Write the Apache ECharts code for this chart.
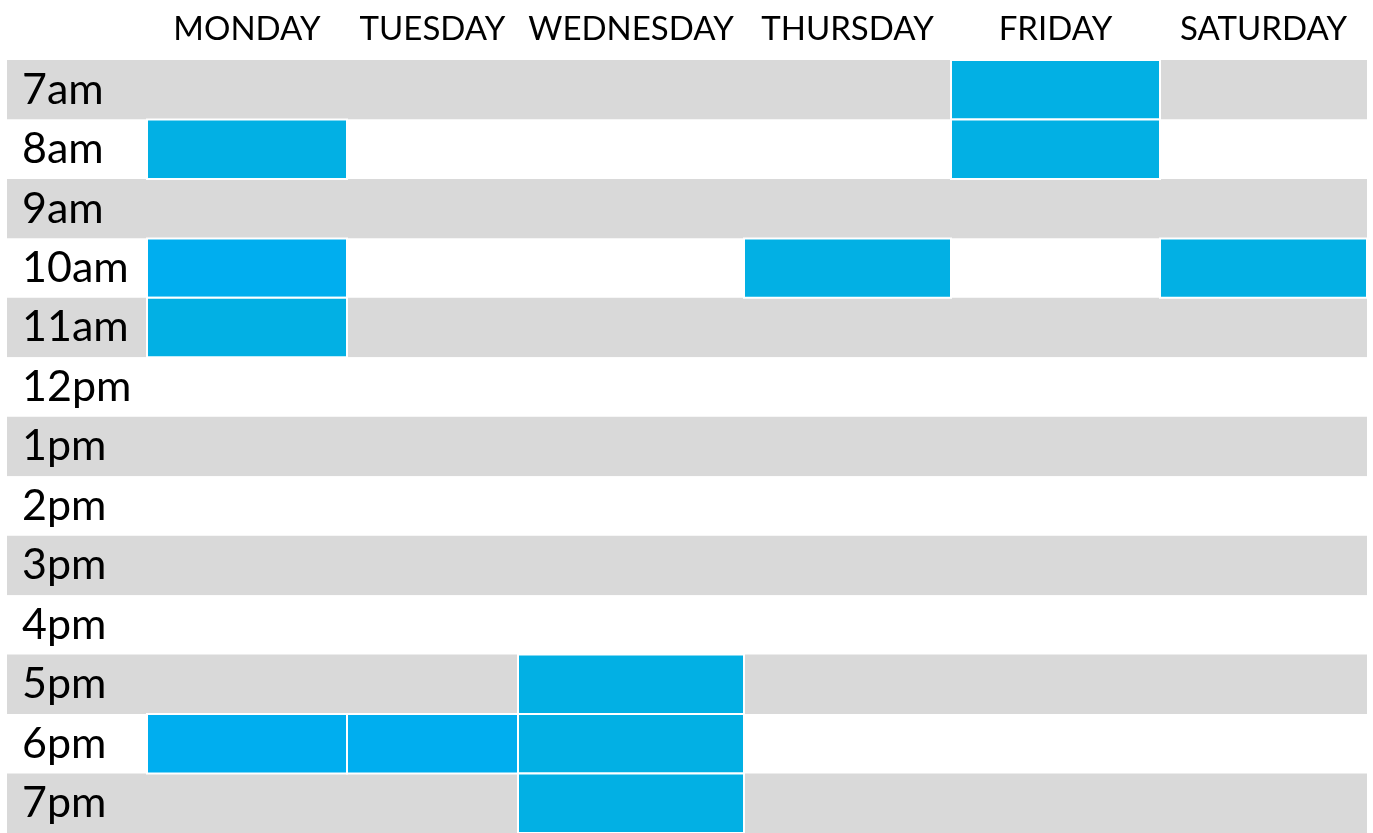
<!DOCTYPE html>
<html>
	<head>
		<meta charset="UTF-8">
		<title></title>
		<style>
			html, body { margin: 0; padding: 0; background: #fff; }
			#main { width: 1373px; height: 833px; }
		</style>
	</head>
	<script src="https://cdn.jsdelivr.net/npm/echarts@6.0.0/dist/echarts.min.js"></script>
	<body>
		<div id="main"></div>
	</body>
	<script>
		// 数据
		const days = ['MONDAY', 'TUESDAY', 'WEDNESDAY', 'THURSDAY', 'FRIDAY', 'SATURDAY']
		const hours = ['7am', '8am', '9am', '10am', '11am', '12pm', '1pm', '2pm', '3pm', '4pm', '5pm', '6pm', '7pm']
		// [day index, hour index, kind]
		const busy = [
			[4, 0, 1],
			[0, 1, 1], [4, 1, 1],
			[0, 3, 2], [3, 3, 1], [5, 3, 1],
			[0, 4, 1],
			[2, 10, 1],
			[0, 11, 2], [1, 11, 2], [2, 11, 1],
			[2, 12, 1]
		]

		// 布局：列边界（横轴单位），第一列是时间标签
		const colEdges = [0, 140, 340, 511, 737, 944, 1153, 1360]
		const kindColor = { 1: '#02B0E4', 2: '#00AEEF' }
		const font = 'Lato, "Open Sans", sans-serif'

		var myChart = echarts.init(document.getElementById('main'))

		var option = {
			animation: false,
			grid: { left: 7, right: 6, top: 60, bottom: 0 },
			xAxis: {
				type: 'value', min: 0, max: colEdges[colEdges.length - 1],
				show: false, splitLine: { show: false }
			},
			yAxis: {
				type: 'category',
				data: hours,
				inverse: true,
				axisLine: { show: false },
				axisTick: { show: false },
				splitLine: { show: false },
				splitArea: { show: true, areaStyle: { color: ['#D9D9D9', '#FFFFFF'] } },
				axisLabel: {
					inside: true, margin: 15,
					fontSize: 43, color: '#000', fontFamily: font,
					padding: [16, 0, 0, 0]
				}
			},
			series: [
				{
					type: 'custom',
					data: busy,
					renderItem: function (params, api) {
						const d = api.value(0), h = api.value(1)
						const p0 = api.coord([colEdges[d + 1], h])
						const p1 = api.coord([colEdges[d + 2], h])
						const bh = api.size([0, 1])[1]
						return {
							type: 'rect',
							shape: { x: p0[0], y: p0[1] - bh / 2, width: p1[0] - p0[0], height: bh },
							style: { fill: kindColor[api.value(2)], stroke: '#fff', lineWidth: 2 }
						}
					}
				},
				{
					type: 'custom',
					clip: false,
					data: days.map((d, i) => [i, 0]),
					renderItem: function (params, api) {
						const i = api.value(0)
						const p = api.coord([(colEdges[i + 1] + colEdges[i + 2]) / 2, 0])
						const bh = api.size([0, 1])[1]
						return {
							type: 'text',
							style: {
								text: days[i], x: p[0], y: p[1] - bh / 2 - 31,
								align: 'center', verticalAlign: 'middle',
								fontSize: 33, fontFamily: font, fill: '#000'
							}
						}
					}
				}
			]
		}

		myChart.setOption(option)
	</script>
</html>
